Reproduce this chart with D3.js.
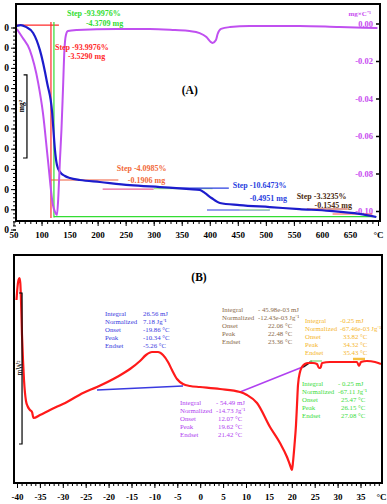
<!DOCTYPE html>
<html><head><meta charset="utf-8">
<script src="https://cdn.jsdelivr.net/npm/d3@7"></script>
<style>
body{margin:0;background:#fff}
svg{display:block}
text{font-family:"Liberation Serif","Times New Roman",serif}
</style>
</head><body>
<svg id="c" width="387" height="504"></svg>
<script>
// ===== Chart (A): TG / DTG =====
const tgTemp = [56,63,72,85,97,110,119,121.2,123.9,127.5,132.8,141.7,150.6,168.4,204,257.5,311,364,382,391,403,418,453,507,560,614,667,697];
const tgMass = [100.8,101.2,100.3,97.3,88.9,72.5,57.7,49.3,39.4,31.9,28.5,26.5,25.5,24.5,23.5,22.0,21.0,20.0,19.6,18.1,15.6,13.1,12.1,11.1,10.1,9.2,7.7,6.2];
const dtgTemp = [56,66,79,94,102.5,111.4,120.3,123.9,127.5,130.1,132.8,135.5,138.2,140.8,143.5,147,163,234,293,338,364,382,394,402,405,411,414,420,436,471,560,631,699];
const dtgRate = [-0.0029,-0.0075,-0.0141,-0.0317,-0.0477,-0.0728,-0.0968,-0.1005,-0.1021,-0.0915,-0.0728,-0.0568,-0.0355,-0.0141,-0.0061,-0.0040,-0.0035,-0.0029,-0.0029,-0.0035,-0.0040,-0.0051,-0.0072,-0.0099,-0.0104,-0.0088,-0.0056,-0.0029,-0.0019,-0.0013,-0.0013,-0.0019,-0.0024];
const aXTicks = [50,100,150,200,250,300,350,400,450,500,550,600,650,700];
const aLeftTicks = [0,10,20,30,40,50,60,70,80,90,100];
const aRightTicks = [0,-0.02,-0.04,-0.06,-0.08,-0.10];

// step construction lines: [color, T0, T1, v0, v1]
const aStepLines = [
  ["#ff2a2a",55,131,101.2,101.2],
  ["#ff2a2a",116.8,116.8,102.7,5.7],
  ["#33dd33",122.1,122.1,102.7,5.9],
  ["#33dd33",122.1,697,6.4,6.4],
  ["#f05a3a",117,237,24.5,24.5],
  ["#e8609a",209,300,20.0,20.0],
  ["#a8e890",300,405,20.2,20.2],
  ["#2b3fe0",330,434,20.5,20.5],
  ["#2b3fe0",395,507,9.65,9.65],
  ["#b0e8a0",453,507,9.75,9.75],
  ["#c04030",573,646,10.15,10.15],
  ["#ff5050",619,690,7.67,7.67]
];
// step texts: [text, color, T, v]
const aStepTexts = [
  ["Step -93.9976%","#33dd33",145.3,105.7],
  ["-4.3709 mg","#33dd33",179.1,100.7],
  ["Step -93.9976%","#ff2a2a",123.9,88.9],
  ["-3.5290 mg","#ff2a2a",147.1,84.2],
  ["Step -4.0985%","#f26a3a",234.3,29.0],
  ["-0.1906 mg","#f26a3a",253.9,22.8],
  ["Step -10.6473%","#2b3fe0",440.9,20.5],
  ["-0.4951 mg","#2b3fe0",471.2,13.9],
  ["Step -3.3235%","#4d2c12",554.9,15.3],
  ["-0.1545 mg","#4d2c12",586.9,10.6]
];

// ===== Chart (B): DSC =====
const dscTemp = [-40.109,-39.891,-39.672,-39.454,-39.279,-39.127,-38.908,-38.69,-38.472,-38.253,-38.035,-37.707,-37.162,-36.725,-36.397,-34.978,-32.795,-29.083,-25.59,-22.533,-18.166,-15.328,-13.144,-11.834,-10.524,-9.214,-8.122,-7.031,-6.157,-5.066,-3.755,-2.227,-0.044,4.323,8.69,10.218,12.402,15.24,17.424,18.952,19.607,20.044,20.262,20.59,20.917,21.135,21.354,21.79,22.227,22.882,23.537,24.629,25.502,25.939,26.266,26.594,28.341,31.616,34.236,34.672,35.109,36.419,38.166,39.476];
const dscFlow = [18.3,19.6,20.3,20.5,20.0,18.3,14.8,12.3,10.3,9.0,8.2,7.7,7.3,7.1,6.5,6.8,7.3,8.1,9.0,9.6,10.6,11.4,12.2,12.8,13.1,13.1,12.8,12.1,11.3,10.4,9.9,9.7,9.6,9.4,9.1,8.8,8.0,5.6,4.0,2.6,1.8,1.3,2.1,3.8,5.8,7.8,9.8,11.1,11.6,11.9,12.0,12.0,11.9,11.5,11.5,12.0,12.1,12.1,12.1,11.7,12.1,12.2,12.1,11.9];
const bXTicks = [-40,-35,-30,-25,-20,-15,-10,-5,0,5,10,15,20,25,30,35];
const bBaselines = [
  ["#3a3ae0",-22.53,-3.76,9.3,9.7,1.5],
  ["#b040f0",8.69,22.9,9.1,11.7,1.5],
  ["#222222",22.45,24.4,11.6,12.2,2],
  ["#90e090",23.97,26.59,12.2,12.2,1.5],
  ["#f5c040",33.36,35.98,12.4,12.4,2.5]
];
const bBoxLabels = ["Integral","Normalized","Onset","Peak","Endset"];
// boxes: color, label T, value T (first two), value T (rest), top v, values
const bBoxes = [
  ["#3a3ae0",-20.79,-12.49,-12.49,16.75,["26.56 mJ","7.18 Jg\u207B\u00B9","-19.86 \u00B0C","-10.34 \u00B0C","-5.26 \u00B0C"]],
  ["#8a6a4a",4.76,12.62,14.8,17.15,["- 45.98e-03 mJ","-12.43e-03 Jg\u207B\u00B9","22.06 \u00B0C","22.48 \u00B0C","23.36 \u00B0C"]],
  ["#f5b52a",22.88,30.52,31.18,16.05,["-0.25 mJ","-67.46e-03 Jg\u207B\u00B9","33.82 \u00B0C","34.32 \u00B0C","35.43 \u00B0C"]],
  ["#b040f0",-4.41,3.45,3.89,7.85,["- 54.49 mJ","-14.73 Jg\u207B\u00B9","12.07 \u00B0C","19.62 \u00B0C","21.42 \u00B0C"]],
  ["#3cdc3c",22.23,30.09,30.74,9.75,["- 0.25 mJ","-67.11 Jg\u207B\u00B9","25.47 \u00B0C","26.15 \u00B0C","27.08 \u00B0C"]]
];

const svg = d3.select("#c");

// ---------- A ----------
const A = {l:16, r:380, t:4, b:221};
const xA = d3.scaleLinear().domain([50,700]).range([13.5,378]);
const yAL = d3.scaleLinear().domain([0,100]).range([229.5,27.5]);
const yAR = d3.scaleLinear().domain([-0.10,0]).range([211,23.5]);

const gA = svg.append("g");
// x axis A
const axA = gA.append("g").attr("transform",`translate(0,${A.b})`)
  .call(d3.axisBottom(xA).tickValues(d3.range(60,701,10)).tickSize(3).tickFormat(""));
axA.select(".domain").remove();
const axA2 = gA.append("g").attr("transform",`translate(0,${A.b})`)
  .call(d3.axisBottom(xA).tickValues(aXTicks).tickSize(5).tickFormat(d=>d===700?"\u00B0C":d));
axA2.select(".domain").remove();
axA2.selectAll("text").attr("dy",null).attr("y",17).style("font-size","9px").style("font-weight","bold").attr("fill","#000");
[axA,axA2].forEach(a=>a.selectAll("line").attr("stroke","#000").attr("stroke-width",1));

// left axis A
const alA = gA.append("g").attr("transform",`translate(${A.l},0)`)
  .call(d3.axisLeft(yAL).tickValues(d3.range(0,101,2)).tickSize(3).tickFormat(""));
alA.select(".domain").remove();
const alA2 = gA.append("g").attr("transform",`translate(${A.l},0)`)
  .call(d3.axisLeft(yAL).tickValues(aLeftTicks).tickSize(5).tickPadding(2).tickFormat(()=>"0"));
alA2.select(".domain").remove();
alA2.selectAll("text").style("font-size","9.5px").style("font-weight","bold").attr("fill","#000");

// right axis A
const arA = gA.append("g").attr("transform",`translate(${A.r},0)`)
  .call(d3.axisLeft(yAR).tickValues(aRightTicks).tickSize(4).tickPadding(3)
    .tickFormat(d=>(Math.abs(d)<1e-9?0:d).toFixed(2)));
arA.select(".domain").remove();
arA.selectAll("line").attr("stroke","#000").attr("stroke-width",1.5);
arA.selectAll("text").style("font-size","8.5px").style("font-weight","bold").attr("fill","#c84cf0");
gA.append("text").attr("x",371).attr("y",15.5).attr("text-anchor","end")
  .style("font-size","7px").style("font-weight","bold").attr("fill","#c84cf0").text("mg\u00D7C\u207B\u00B9");

// step lines
aStepLines.forEach(([c,t0,t1,v0,v1])=>{
  gA.append("line").attr("x1",xA(t0)).attr("x2",xA(t1)).attr("y1",yAL(v0)).attr("y2",yAL(v1))
    .attr("stroke",c).attr("stroke-width",1.2);
});

// curves A
const lineTG = d3.line().x((d,i)=>xA(tgTemp[i])).y((d,i)=>yAL(tgMass[i])).curve(d3.curveMonotoneX);
gA.append("path").attr("d",lineTG(tgTemp)).attr("fill","none").attr("stroke","#1c1ccc").attr("stroke-width",2.2);
const lineDTG = d3.line().x((d,i)=>xA(dtgTemp[i])).y((d,i)=>yAR(dtgRate[i])).curve(d3.curveMonotoneX);
gA.append("path").attr("d",lineDTG(dtgTemp)).attr("fill","none").attr("stroke","#c050f0").attr("stroke-width",2);

// step texts
aStepTexts.forEach(([t,c,T,v])=>{
  gA.append("text").attr("x",xA(T)).attr("y",yAL(v)).attr("fill",c)
    .style("font-size","8px").style("font-weight","bold").text(t);
});
gA.append("text").attr("x",xA(364.3)).attr("y",yAL(67.1)).attr("text-anchor","middle")
  .style("font-size","11.5px").style("font-weight","bold").text("(A)");

// scale bar A
const sbA = [[74,76.5],[74,35.4]];
gA.append("path").attr("fill","none").attr("stroke","#000").attr("stroke-width",1.2)
  .attr("d",`M${xA(68)},${yAL(sbA[0][1])}H${xA(sbA[0][0])}V${yAL(sbA[1][1])}H${xA(67)}`);
gA.append("text").attr("transform",`translate(23.5,106) rotate(-90)`).attr("text-anchor","middle")
  .style("font-size","7.5px").style("font-weight","bold").text("mg\u00B2");

// frame A
gA.append("path").attr("fill","none").attr("stroke","#000").attr("stroke-width",2)
  .attr("d",`M${A.l},${A.b+1}V${A.t}H${A.r}V${A.b}H${A.l}`);

// ---------- B ----------
const B = {l:14, r:382, t:255, b:483};
const xB = d3.scaleLinear().domain([-40,35]).range([17,360.5]);
const yB = d3.scaleLinear().domain([0,10]).range([483,383]);
const gB = svg.append("g");

const axB = gB.append("g").attr("transform",`translate(0,${B.b})`)
  .call(d3.axisBottom(xB).tickValues(d3.range(-40,40,1)).tickSize(3).tickFormat(""));
axB.select(".domain").remove();
const axB2 = gB.append("g").attr("transform",`translate(0,${B.b})`)
  .call(d3.axisBottom(xB).tickValues(bXTicks).tickSize(5).tickFormat(d=>String(d)));
axB2.select(".domain").remove();
axB2.selectAll("text").attr("dy",null).attr("y",17).style("font-size","9px").style("font-weight","bold").attr("fill","#000");
gB.append("text").attr("x",xB(39.6)).attr("y",B.b+17).attr("text-anchor","middle")
  .style("font-size","9px").style("font-weight","bold").text("\u00B0C");

// baselines
bBaselines.forEach(([c,t0,t1,v0,v1,w])=>{
  gB.append("line").attr("x1",xB(t0)).attr("x2",xB(t1)).attr("y1",yB(v0)).attr("y2",yB(v1))
    .attr("stroke",c).attr("stroke-width",w);
});

const lineDSC = d3.line().x((d,i)=>xB(dscTemp[i])).y((d,i)=>yB(dscFlow[i])).curve(d3.curveMonotoneX);
gB.append("path").attr("d",lineDSC(dscTemp)).attr("fill","none").attr("stroke","#ff1a1a").attr("stroke-width",2.2);

// boxes
bBoxes.forEach(([c,tl,tv1,tv2,v0,vals])=>{
  bBoxLabels.forEach((lab,i)=>{
    const vv = v0 - i*0.81;
    gB.append("text").attr("x",xB(tl)).attr("y",yB(vv)).attr("fill",c).style("font-size","6.8px").text(lab);
    gB.append("text").attr("x",xB(i<2?tv1:tv2)).attr("y",yB(vv)).attr("fill",c).style("font-size","6.8px").text(vals[i]);
  });
});
gB.append("text").attr("x",xB(-0.26)).attr("y",yB(20.2)).attr("text-anchor","middle")
  .style("font-size","11.5px").style("font-weight","bold").text("(B)");

// scale bar B
gB.append("path").attr("fill","none").attr("stroke","#000").attr("stroke-width",1.2)
  .attr("d",`M${xB(-39.55)},${yB(19)}H${xB(-38.9)}V${yB(3.9)}H${xB(-39.55)}`);
gB.append("text").attr("transform",`translate(22,368) rotate(-90)`).attr("text-anchor","middle")
  .style("font-size","7.5px").text("mW\u00B2");

gB.append("path").attr("fill","none").attr("stroke","#000").attr("stroke-width",2)
  .attr("d",`M${B.l},${B.b+1}V${B.t}H${B.r}V${B.b}H${B.l}`);
</script>
</body></html>
